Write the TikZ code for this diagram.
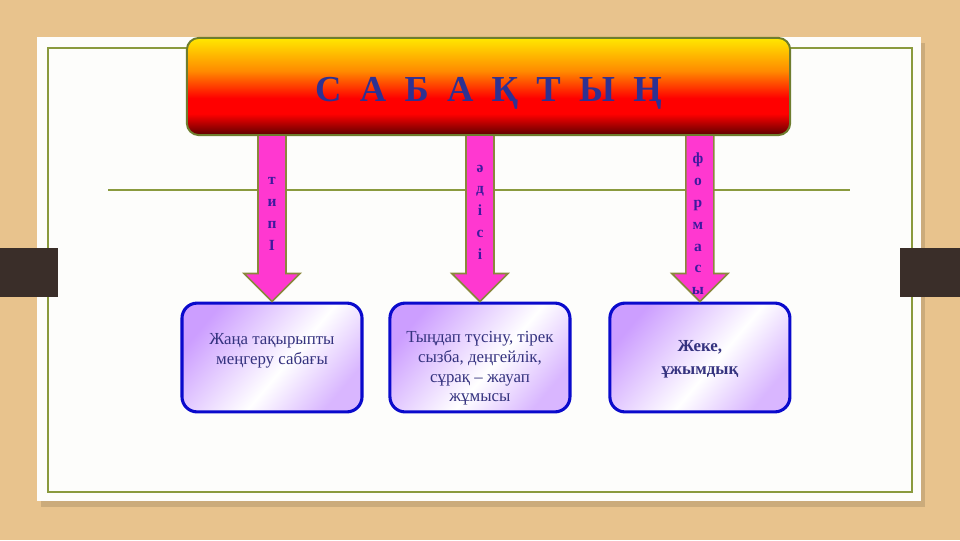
\documentclass[tikz,border=0pt]{standalone}
\usepackage{fontspec}
\setmainfont{Liberation Serif}
\usetikzlibrary{positioning, calc}

\definecolor{bgTan}{HTML}{E8C38D}
\definecolor{paperWhite}{HTML}{FDFDFB}
\definecolor{frameGreen}{HTML}{8A9A3E}
\definecolor{barBrown}{HTML}{3A2E29}
\definecolor{bannerEdge}{HTML}{6E7D2E}
\definecolor{bannerYellow}{HTML}{FFE800}
\definecolor{bannerOrange}{HTML}{FF8A00}
\definecolor{bannerRed}{HTML}{FF0000}
\definecolor{bannerDark}{HTML}{5C0000}
\definecolor{titleBlue}{HTML}{2E3192}
\definecolor{arrowPink}{HTML}{FF38D0}
\definecolor{arrowEdge}{HTML}{8A873C}
\definecolor{letterBlue}{HTML}{3D1A9E}
\definecolor{boxBlue}{HTML}{0A0ACC}
\definecolor{boxLav}{HTML}{CC9EFF}
\definecolor{textBlue}{HTML}{35337F}

\pgfdeclareverticalshading{bannerfill}{100bp}{color(0bp)=(bannerDark); color(25bp)=(bannerDark); color(36bp)=(bannerRed); color(44bp)=(bannerRed); color(58bp)=(bannerOrange); color(75bp)=(bannerYellow); color(100bp)=(bannerYellow)}
\pgfdeclarehorizontalshading{boxfill}{100bp}{color(0bp)=(boxLav); color(25bp)=(boxLav); color(55bp)=(white); color(75bp)=(boxLav!75); color(100bp)=(boxLav!75)}

\begin{document}
\begin{tikzpicture}[
    x=0.025cm, y=-0.025cm,
    title/.style={rectangle, rounded corners=0.3cm, draw=bannerEdge, line width=1.4pt, shading=bannerfill, minimum width=15.08cm, minimum height=2.43cm, text=titleBlue, font=\fontsize{26}{30}\selectfont\bfseries},
    infobox/.style={rectangle, rounded corners=0.38cm, draw=boxBlue, line width=2.2pt, shading=boxfill, shading angle=-40, minimum width=4.5cm, minimum height=2.72cm},
    boxtext/.style={align=center, text=textBlue, font=\fontsize{12}{14}\selectfont},
    fatarrow/.style={fill=arrowPink, draw=arrowEdge, line width=1.2pt, line join=miter},
    letters/.style={align=center, text=letterBlue, font=\fontsize{11}{15.5}\selectfont\bfseries}
]
\useasboundingbox (0,0) rectangle (960,540);

% Background and paper
\fill[bgTan] (0,0) rectangle (960,540);
\fill[black, opacity=0.12] (41,43) rectangle (925,507);
\fill[paperWhite] (37,37) rectangle (921,501);
\draw[frameGreen, line width=1.4pt] (48,48) rectangle (912,492);
\draw[frameGreen, line width=1.1pt] (108,190) -- (850,190);
\fill[barBrown] (0,248) rectangle (58,297);
\fill[barBrown] (900,248) rectangle (960,297);

% Title
\node[title] (banner) at (488.5,86.5) {\raisebox{-0.14cm}[0.62cm][0.15cm]{С\enspace А\enspace Б\enspace А\enspace Қ\enspace Т\enspace Ы\enspace Ң}};

% Boxes
\node[infobox] (kind) at (272,357.5) {};
\node[infobox, right=0.62cm of kind] (method) {};
\node[infobox, right=0.92cm of method] (form) {};

\node[boxtext] (kindtext) at ($(kind.center)+(0,-7)$) {Жаңа тақырыпты\\ меңгеру сабағы};
\node[boxtext] (methodtext) at ($(method.center)+(0,11)$) {Тыңдап түсіну, тірек\\ сызба, деңгейлік,\\ сұрақ -- жауап\\ жұмысы};
\node[boxtext, font=\fontsize{12}{16.3}\selectfont\bfseries] (formtext) at ($(form.center)+(0,2)$) {Жеке,\\ ұжымдық};

% Arrows
\coordinate (kindtop) at (kind.north |- banner.south);
\coordinate (methodtop) at (method.north |- banner.south);
\coordinate (formtop) at (form.north |- banner.south);
\draw[fatarrow] ($(kindtop)+(-14,0)$) -- ($(kind.north)+(-14,-28)$) -- ++(-14,0) -- (kind.north) -- ++(28,-28) -- ++(-14,0) -- ($(kindtop)+(14,0)$);
\draw[fatarrow] ($(methodtop)+(-14,0)$) -- ($(method.north)+(-14,-28)$) -- ++(-14,0) -- (method.north) -- ++(28,-28) -- ++(-14,0) -- ($(methodtop)+(14,0)$);
\draw[fatarrow] ($(formtop)+(-14,0)$) -- ($(form.north)+(-14,-28)$) -- ++(-14,0) -- (form.north) -- ++(28,-28) -- ++(-14,0) -- ($(formtop)+(14,0)$);

% Arrow words
\node[letters] (kindword) at (272,214) {т\\ и\\ п\\ І};
\node[letters] (methodword) at (480,212) {ә\\ д\\ і\\ с\\ і};
\node[letters] (formword) at (698,224) {ф\\ о\\ р\\ м\\ а\\ с\\ ы};

\end{tikzpicture}
\end{document}
